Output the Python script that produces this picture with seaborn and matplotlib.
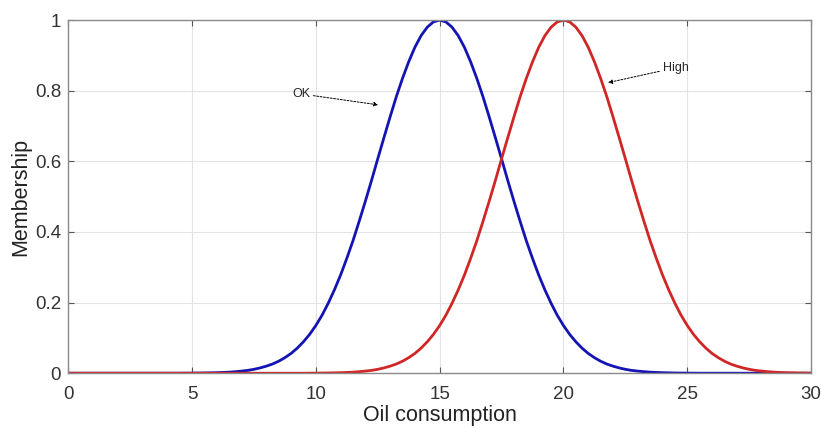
import numpy as np
import pandas as pd
import matplotlib
matplotlib.use("Agg")
import matplotlib.pyplot as plt
import seaborn as sns

# x grid (Oil consumption), 0 .. 30 in steps of 0.25
x_vals = np.arange(0, 30.25, 0.25)

ok_vals = ([0] * 19 +
           [0.0002, 0.0003, 0.0005, 0.0007, 0.0011, 0.0015, 0.0022, 0.003, 0.0043, 0.006,
            0.008, 0.011, 0.015, 0.020, 0.026, 0.034, 0.044, 0.056, 0.071, 0.089,
            0.110, 0.135, 0.164, 0.198, 0.236, 0.278, 0.325, 0.375, 0.430, 0.487,
            0.546, 0.607, 0.667, 0.726, 0.783, 0.835, 0.882, 0.923, 0.956, 0.980, 0.995] +
           [1.0] +
           [0.995, 0.980, 0.956, 0.923, 0.882, 0.835, 0.783, 0.726, 0.667, 0.607,
            0.546, 0.487, 0.430, 0.375, 0.325, 0.278, 0.236, 0.198, 0.164, 0.135,
            0.110, 0.089, 0.071, 0.056, 0.044, 0.034, 0.026, 0.020, 0.015, 0.011,
            0.008, 0.006, 0.0043, 0.003, 0.0022, 0.0015, 0.0011, 0.0007, 0.0005, 0.0003,
            0.0002] +
           [0] * 19)

high_vals = ([0] * 39 +
             [0.0002, 0.0003, 0.0005, 0.0007, 0.0011, 0.0015, 0.0022, 0.003, 0.0043, 0.006,
              0.008, 0.011, 0.015, 0.020, 0.026, 0.034, 0.044, 0.056, 0.071, 0.089,
              0.110, 0.135, 0.164, 0.198, 0.236, 0.278, 0.325, 0.375, 0.430, 0.487,
              0.546, 0.607, 0.667, 0.726, 0.783, 0.835, 0.882, 0.923, 0.956, 0.980, 0.995] +
             [1.0] +
             [0.995, 0.980, 0.956, 0.923, 0.882, 0.835, 0.783, 0.726, 0.667, 0.607,
              0.546, 0.487, 0.430, 0.375, 0.325, 0.278, 0.236, 0.198, 0.164, 0.135,
              0.110, 0.089, 0.071, 0.056, 0.044, 0.034, 0.026, 0.020, 0.015, 0.011,
              0.008, 0.006, 0.0043, 0.003, 0.0022, 0.0015, 0.0011, 0.0007, 0.0005, 0.0003])

series_names = ["OK", "High"]
x_ticks = [0, 5, 10, 15, 20, 25, 30]
x_ticklabels = ["0", "5", "10", "15", "20", "25", "30"]
y_ticks = [0, 0.2, 0.4, 0.6, 0.8, 1.0]
y_ticklabels = ["0", "0.2", "0.4", "0.6", "0.8", "1"]

df = pd.DataFrame({
    "x": np.concatenate([x_vals, x_vals]),
    "y": ok_vals + high_vals,
    "set": [series_names[0]] * len(x_vals) + [series_names[1]] * len(x_vals),
})

sns.set_style("whitegrid")
plt.rcParams["font.family"] = ["Liberation Sans", "DejaVu Sans"]

fig = plt.figure(figsize=(8.21, 4.28), dpi=100)
ax = fig.add_axes([0.083, 0.128, 0.905, 0.825])

sns.lineplot(data=df, x="x", y="y", hue="set", palette={"OK": "#1414B4", "High": "#D02626"},
             linewidth=2.0, legend=False, ax=ax)

ax.set_xlim(0, 30)
ax.set_ylim(0, 1)
ax.set_xticks(x_ticks)
ax.set_xticklabels(x_ticklabels)
ax.set_yticks(y_ticks)
ax.set_yticklabels(y_ticklabels)
ax.tick_params(axis="both", direction="in", length=4, width=0.8, color="#555555",
               labelsize=13.5, labelcolor="#333333",
               top=True, right=True, bottom=True, left=True)
ax.tick_params(axis="x", pad=9)
ax.tick_params(axis="y", pad=5)
ax.grid(True, color="#E3E3E3", linewidth=0.8)
for s in ax.spines.values():
    s.set_visible(True)
    s.set_color("#8A8A8A")
    s.set_linewidth(1.0)

ax.set_xlabel("Oil consumption", fontsize=15.5, color="#222222", labelpad=2)
ax.set_ylabel("Membership", fontsize=15.5, color="#222222", labelpad=3)

arrow = dict(arrowstyle="-|>", linestyle=(0, (2, 1.5)), color="black", lw=0.7,
             mutation_scale=6, shrinkA=0, shrinkB=0)
ax.annotate("OK", xy=(12.52, 0.760), xytext=(9.77, 0.791), fontsize=9,
            ha="right", va="center", arrowprops=arrow)
ax.annotate("High", xy=(21.8, 0.823), xytext=(24.0, 0.865), fontsize=9,
            ha="left", va="center", arrowprops=arrow)

fig.savefig("out.png", dpi=100)
